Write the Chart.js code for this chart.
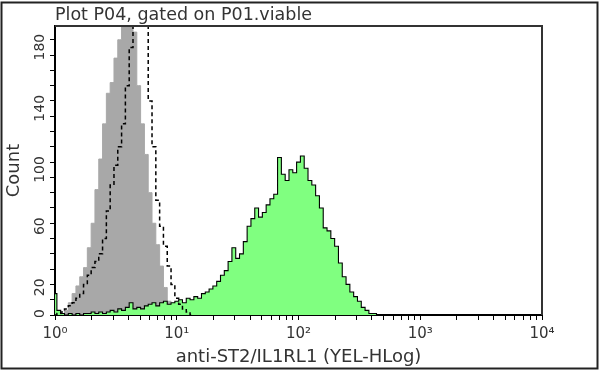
<!DOCTYPE html>
<html>
<head>
<meta charset="utf-8">
<script src="https://cdn.jsdelivr.net/npm/chart.js@4"></script>
<style>
  html, body { margin: 0; padding: 0; background: #fff; }
  #wrap { width: 600px; height: 371px; }
</style>
</head>
<body>
<div id="wrap"><canvas id="hist" width="600" height="371"></canvas></div>
<script>
'use strict'

const plotTitle = 'Plot P04, gated on P01.viable';
const xTitle = 'anti-ST2/IL1RL1 (YEL-HLog)';
const yTitle = 'Count';

// histogram bins, 32 channels per decade, channel 0 sits at 10^0
const channelsPerDecade = 32;

// grey filled histogram (unstained / isotype), peak runs off the top
const greyCounts = [
  0, 0, 1, 3, 8, 14, 19, 25, 31, 44,
  60, 82, 102, 125, 145, 152, 168, 180, 215, 240,
  225, 185, 150, 125, 105, 80, 60, 46, 32, 18,
  9, 4, 1, 0
];

// dashed outline histogram (FMO control)
const dashedCounts = [
  0, 1, 2, 4, 6, 8, 11, 14, 20, 26,
  31, 35, 40, 50, 68, 85, 98, 110, 125, 150,
  175, 200, 215, 220, 200, 140, 110, 75, 58, 45,
  32, 20, 11, 7, 4, 2, 0
];

// green filled histogram (anti-ST2 stained)
const greenCounts = [
  14, 3, 1, 0, 1, 0, 1, 0, 1, 1,
  2, 1, 2, 1, 2, 3, 2, 4, 3, 5,
  8, 4, 5, 4, 6, 7, 8, 6, 8, 9,
  7, 8, 9, 10, 8, 11, 10, 12, 11, 14,
  15, 17, 19, 22, 26, 29, 35, 44, 37, 40,
  48, 58, 63, 70, 64, 67, 72, 76, 79, 103,
  92, 88, 95, 93, 100, 104, 96, 88, 85, 78,
  70, 57, 55, 50, 45, 34, 25, 20, 15, 12,
  9, 5, 3, 1, 1, 0
];

const xTickValues = [
  1, 2, 3, 4, 5, 6, 7, 8, 9,
  10, 20, 30, 40, 50, 60, 70, 80, 90,
  100, 200, 300, 400, 500, 600, 700, 800, 900,
  1000, 2000, 3000, 4000, 5000, 6000, 7000, 8000, 9000,
  10000
];
const xTickLabels = { 1: '10⁰', 10: '10¹', 100: '10²', 1000: '10³', 10000: '10⁴' };
const yTickValues = [0, 10, 20, 30, 40, 50, 60, 70, 80, 90, 100, 110, 120, 130, 140, 150, 160, 170, 180];
const yTickLabels = [0, 20, 60, 100, 140, 180];

const toPoints = counts => counts.map((c, ch) => ({ x: 10 ** (ch / channelsPerDecade), y: c }));

const textColor = '#333';
const fontFamily = '"DejaVu Sans", Verdana, sans-serif';

// white background, outer frame, plot box and the plot title
const framePlugin = {
  id: 'frame',
  beforeDraw: chart => {
    const ctx = chart.ctx;
    ctx.save();
    ctx.fillStyle = '#fff';
    ctx.fillRect(0, 0, chart.width, chart.height);
    ctx.restore();
  },
  afterDraw: chart => {
    const ctx = chart.ctx;
    const a = chart.chartArea;
    ctx.save();
    ctx.strokeStyle = '#333';
    ctx.lineWidth = 2;
    ctx.beginPath();
    ctx.moveTo(a.left, a.top);
    ctx.lineTo(a.right, a.top);
    ctx.lineTo(a.right, a.bottom);
    ctx.stroke();
    ctx.strokeStyle = '#222';
    ctx.strokeRect(1.5, 2.5, 596, 366);
    ctx.fillStyle = textColor;
    ctx.font = '17.5px ' + fontFamily;
    ctx.textBaseline = 'alphabetic';
    ctx.textAlign = 'left';
    ctx.fillText(plotTitle, a.left, 19.5);
    ctx.restore();
  }
};

const chart = new Chart(document.getElementById('hist'), {
  type: 'line',
  data: {
    datasets: [
      {
        label: 'dashed',
        data: toPoints(dashedCounts),
        borderColor: '#000',
        borderWidth: 1.5,
        borderDash: [4, 3],
        fill: false,
        stepped: 'middle',
        pointRadius: 0,
        order: 0
      },
      {
        label: 'stained',
        data: toPoints(greenCounts),
        borderColor: '#000',
        borderWidth: 1.1,
        backgroundColor: '#80ff80',
        fill: 'origin',
        stepped: 'middle',
        pointRadius: 0,
        order: 1
      },
      {
        label: 'unstained',
        data: toPoints(greyCounts),
        borderColor: '#a8a8a8',
        borderWidth: 1,
        backgroundColor: '#a8a8a8',
        fill: 'origin',
        stepped: 'middle',
        pointRadius: 0,
        order: 2
      }
    ]
  },
  options: {
    responsive: false,
    animation: false,
    devicePixelRatio: 1,
    layout: { padding: { left: 4, right: 58, top: 26, bottom: 3 } },
    plugins: { legend: { display: false }, tooltip: { enabled: false } },
    scales: {
      x: {
        type: 'logarithmic',
        min: 1,
        max: 10000,
        z: 1,
        afterBuildTicks: s => { s.ticks = xTickValues.map(v => ({ value: v })); },
        afterFit: s => { s.height = 53; },
        grid: { drawOnChartArea: false, drawTicks: true, tickLength: 5, tickColor: '#000', tickWidth: 1 },
        border: { display: true, color: '#000', width: 2 },
        ticks: {
          autoSkip: false,
          maxRotation: 0,
          padding: 5,
          color: textColor,
          font: { family: fontFamily, size: 15 },
          callback: v => xTickLabels[v] || ''
        },
        title: {
          display: true,
          text: xTitle,
          color: textColor,
          padding: 0,
          font: { family: fontFamily, size: 18 }
        }
      },
      y: {
        min: 0,
        max: 189,
        z: 1,
        afterBuildTicks: s => { s.ticks = yTickValues.map(v => ({ value: v })); },
        afterFit: s => { s.width = 51; },
        grid: { drawOnChartArea: false, drawTicks: true, tickLength: 5, tickColor: '#000', tickWidth: 1 },
        border: { display: true, color: '#000', width: 2 },
        ticks: {
          autoSkip: false,
          minRotation: 90,
          maxRotation: 90,
          padding: 10,
          labelOffset: -6,
          color: textColor,
          font: { family: fontFamily, size: 14 },
          callback: v => yTickLabels.includes(v) ? String(v) : ''
        },
        title: {
          display: true,
          text: yTitle,
          color: textColor,
          padding: 0,
          font: { family: fontFamily, size: 18 }
        }
      }
    }
  },
  plugins: [framePlugin]
});
</script>
</body>
</html>
